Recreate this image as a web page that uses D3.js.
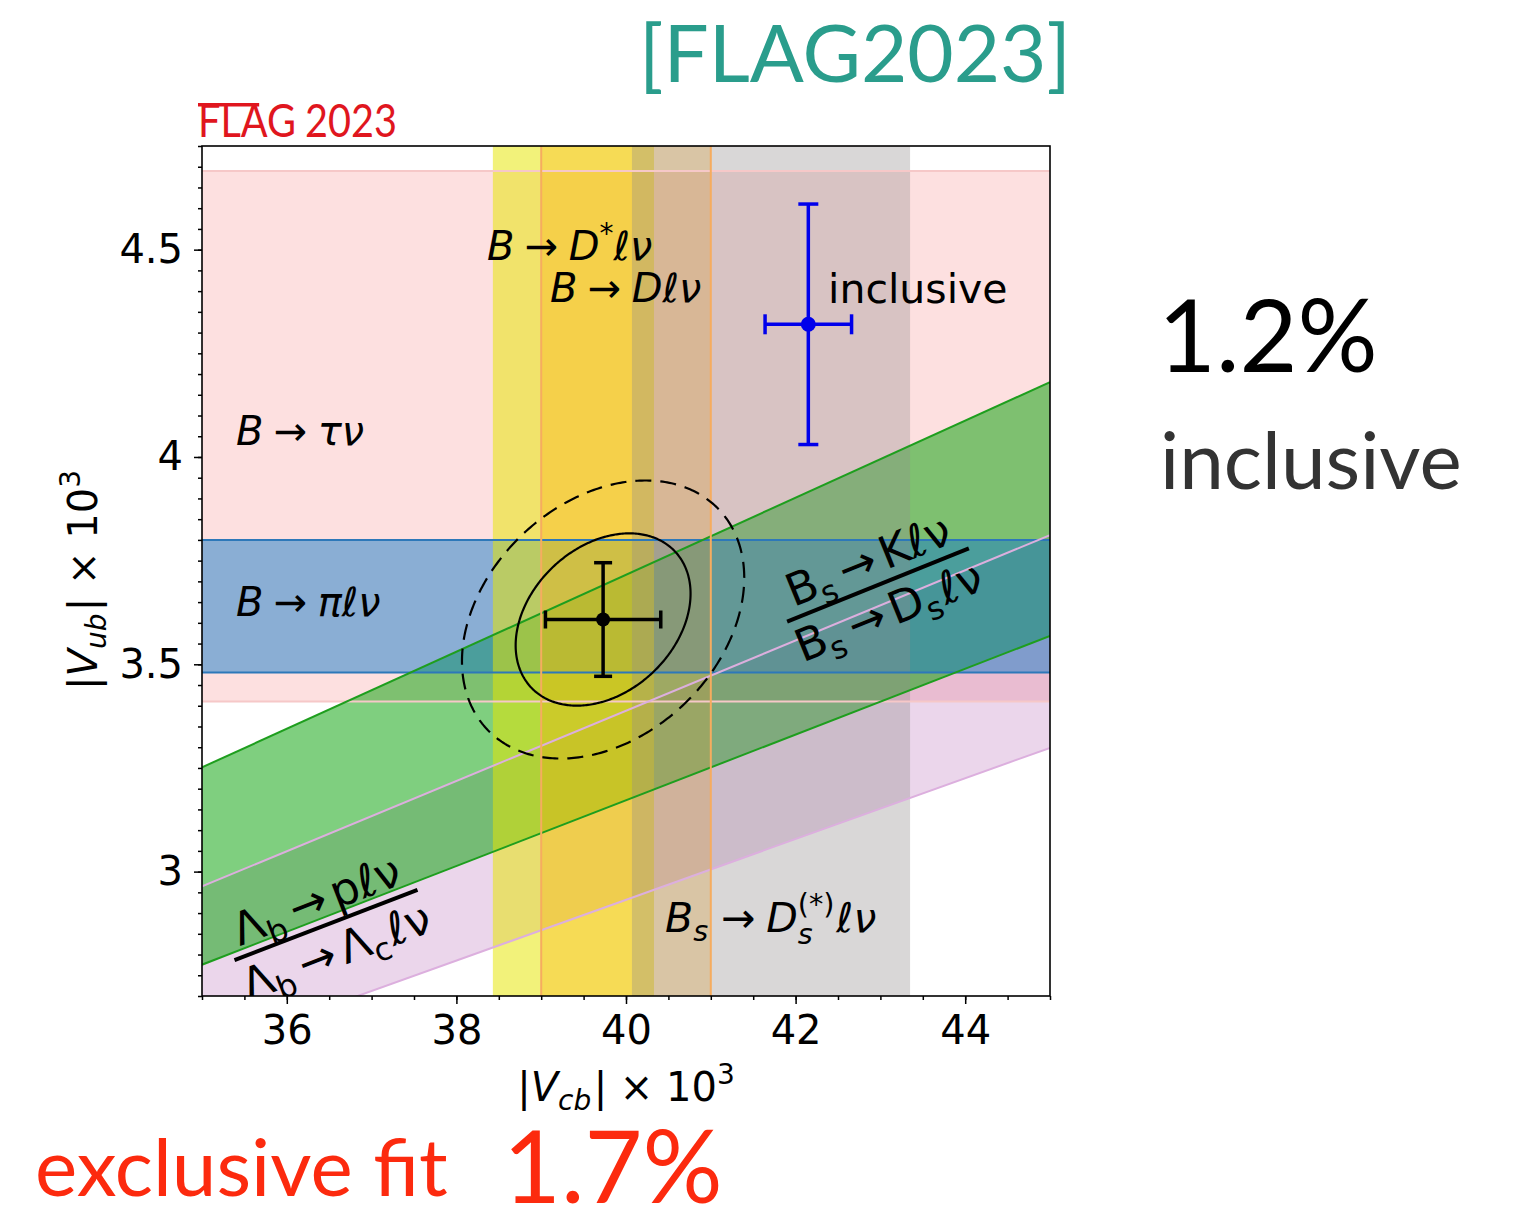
<!DOCTYPE html>
<html><head><meta charset="utf-8">
<script src="https://cdn.jsdelivr.net/npm/d3@7"></script>
<style>
body{margin:0;background:#fff;}
svg{display:block;}
</style></head><body>
<svg id="c" width="1516" height="1211"></svg>
<script>
// axis ranges (|Vcb| x 10^3, |Vub| x 10^3)
const vcbDomain = [35, 45];
const vubDomain = [2.7, 4.75];
const vcbTickLabels = [36, 38, 40, 42, 44];
const vubTickLabels = [3, 3.5, 4, 4.5];

// |Vcb| determinations: central value and error
const vcbModes = ["B→D*ℓν", "B→Dℓν", "Bs→Ds(*)ℓν"];
const vcbCentral = [39.38, 40.00, 41.71];
const vcbError = [0.95, 1.00, 1.64];

// |Vub| determinations
const vubModes = ["B→τν", "B→πℓν"];
const vubCentral = [4.05, 3.64];
const vubError = [0.64, 0.16];

// |Vub/Vcb| ratio determinations
const ratioModes = ["Λb→pℓν / Λb→Λcℓν", "Bs→Kℓν / Bs→Dsℓν"];
const ratioCentral = [0.0790, 0.0861];
const ratioError = [0.0057, 0.0068];

// exclusive fit
const fitVcb = [39.73, 0.68];
const fitVub = [3.608, 0.137];
const fitCorr = 0.30;
const contourLevels = [2.30, 5.99];   // delta chi^2, 2 dof: 68% and 95% CL

// inclusive determination
const inclVcb = [42.15, 0.51];
const inclVub = [4.32, 0.29];

const svg = d3.select("#c");
const L = 202, R = 1050, T = 146, B = 996;
const x = d3.scaleLinear().domain(vcbDomain).range([L, R]);
const y = d3.scaleLinear().domain(vubDomain).range([B, T]);

svg.append("defs").append("clipPath").attr("id", "plotclip")
  .append("rect").attr("x", L).attr("y", T).attr("width", R - L).attr("height", B - T);

const plot = svg.append("g").attr("clip-path", "url(#plotclip)");
plot.append("rect").attr("x", L).attr("y", T).attr("width", R - L).attr("height", B - T).attr("fill", "#fff");

// styles per band
const vubFill = [{c: "rgb(253,224,224)", o: 1}, {c: "rgb(23,124,200)", o: 0.5}];
const vubEdge = ["rgb(246,200,200)", "rgb(45,120,185)"];
const vcbFill = [{c: "rgb(230,230,0)", o: 0.52}, {c: "rgb(255,165,0)", o: 0.3}, {c: "rgb(145,140,140)", o: 0.35}];
const vcbEdge = [null, "rgb(246,172,95)", null];
const ratioFill = [{c: "rgb(128,0,128)", o: 0.16}, {c: "rgb(0,160,0)", o: 0.5}];
const ratioEdge = ["rgb(220,175,222)", "rgb(30,158,30)"];

function hband(i) {
  const lo = vubCentral[i] - vubError[i], hi = vubCentral[i] + vubError[i];
  plot.append("rect").attr("x", L).attr("width", R - L)
    .attr("y", y(hi)).attr("height", y(lo) - y(hi))
    .attr("fill", vubFill[i].c).attr("fill-opacity", vubFill[i].o);
}
function vband(i) {
  const lo = vcbCentral[i] - vcbError[i], hi = vcbCentral[i] + vcbError[i];
  plot.append("rect").attr("y", T).attr("height", B - T)
    .attr("x", x(lo)).attr("width", x(hi) - x(lo))
    .attr("fill", vcbFill[i].c).attr("fill-opacity", vcbFill[i].o);
}
function rband(i) {
  const lo = ratioCentral[i] - ratioError[i], hi = ratioCentral[i] + ratioError[i];
  const [a, b] = vcbDomain;
  const pts = [[a, lo * a], [b, lo * b], [b, hi * b], [a, hi * a]];
  plot.append("polygon").attr("points", pts.map(p => [x(p[0]), y(p[1])].join(",")).join(" "))
    .attr("fill", ratioFill[i].c).attr("fill-opacity", ratioFill[i].o);
}

// fills, back to front
hband(0);
rband(0);
rband(1);
hband(1);
vband(0);
vband(1);
vband(2);

// band edges
vubCentral.forEach((c, i) => {
  [c - vubError[i], c + vubError[i]].forEach(v => {
    plot.append("line").attr("x1", L).attr("x2", R).attr("y1", y(v)).attr("y2", y(v))
      .attr("stroke", vubEdge[i]).attr("stroke-width", 2);
  });
});
ratioCentral.forEach((c, i) => {
  [c - ratioError[i], c + ratioError[i]].forEach(r => {
    plot.append("line").attr("x1", x(vcbDomain[0])).attr("y1", y(r * vcbDomain[0]))
      .attr("x2", x(vcbDomain[1])).attr("y2", y(r * vcbDomain[1]))
      .attr("stroke", ratioEdge[i]).attr("stroke-width", 2);
  });
});
vcbCentral.forEach((c, i) => {
  if (!vcbEdge[i]) return;
  [c - vcbError[i], c + vcbError[i]].forEach(v => {
    plot.append("line").attr("y1", T).attr("y2", B).attr("x1", x(v)).attr("x2", x(v))
      .attr("stroke", vcbEdge[i]).attr("stroke-width", 2);
  });
});

// fit contours
const ang = d3.range(0, 2 * Math.PI + 0.001, Math.PI / 180);
contourLevels.forEach((lvl, k) => {
  const s = Math.sqrt(lvl);
  const pts = ang.map(t => [
    x(fitVcb[0] + s * fitVcb[1] * Math.cos(t)),
    y(fitVub[0] + s * fitVub[1] * (fitCorr * Math.cos(t) + Math.sqrt(1 - fitCorr * fitCorr) * Math.sin(t)))
  ]);
  plot.append("path").attr("d", d3.line()(pts)).attr("fill", "none")
    .attr("stroke", "#000").attr("stroke-width", 2.2)
    .attr("stroke-dasharray", k === 1 ? "16,9" : null);
});

// error bar points
function errPoint(vx, vy, color, cap, r) {
  const g = plot.append("g").attr("stroke", color).attr("stroke-width", 3.5);
  g.append("line").attr("x1", x(vx[0] - vx[1])).attr("x2", x(vx[0] + vx[1])).attr("y1", y(vy[0])).attr("y2", y(vy[0]));
  g.append("line").attr("y1", y(vy[0] - vy[1])).attr("y2", y(vy[0] + vy[1])).attr("x1", x(vx[0])).attr("x2", x(vx[0]));
  [vx[0] - vx[1], vx[0] + vx[1]].forEach(v => g.append("line").attr("x1", x(v)).attr("x2", x(v)).attr("y1", y(vy[0]) - cap).attr("y2", y(vy[0]) + cap));
  [vy[0] - vy[1], vy[0] + vy[1]].forEach(v => g.append("line").attr("y1", y(v)).attr("y2", y(v)).attr("x1", x(vx[0]) - cap).attr("x2", x(vx[0]) + cap));
  plot.append("circle").attr("cx", x(vx[0])).attr("cy", y(vy[0])).attr("r", r).attr("fill", color);
}
errPoint(fitVcb, fitVub, "#000", 9, 7);
errPoint(inclVcb, inclVub, "rgb(0,0,235)", 10, 7.5);

// mathtext-like labels: one <text> per label, pieces as tspans
const MATH = "'DejaVu Sans', sans-serif";
function mathLabel(parent, pieces, size) {
  const g = parent.append("g");
  const txt = g.append("text").attr("font-family", MATH).attr("fill", "#000").attr("font-size", size);
  let cx = 0;
  const addSpan = (str, s, shift, italic) => {
    const t = txt.append("tspan").attr("x", cx).attr("y", shift)
      .attr("font-size", s).attr("font-style", italic ? "italic" : "normal").text(str);
    return t.node().getComputedTextLength();
  };
  for (const p of pieces) {
    if (p.gap !== undefined) { cx += p.gap * size; continue; }
    if (p.stack) {
      const s = size * 0.7;
      const wa = addSpan(p.stack.sup, s, -0.45 * size, false);
      const wb = addSpan(p.stack.sub, s, 0.3 * size, true);
      cx += Math.max(wa, wb);
      continue;
    }
    const s = (p.sub || p.sup) ? size * 0.7 : size;
    const yy = p.sub ? 0.22 * size : p.sup ? -0.42 * size : 0;
    const w = addSpan(p.t, s, yy, p.i);
    cx += w;
    if (p.sub) cx += 0.06 * size;
  }
  return {g, w: cx};
}
function placeLabel(parent, pieces, size, px, py) {
  const m = mathLabel(parent, pieces, size);
  m.g.attr("transform", `translate(${px},${py})`);
  return m;
}
const arrow = [{gap: 0.26}, {t: "→"}, {gap: 0.26}];

placeLabel(plot, [{t: "B", i: 1}, ...arrow, {t: "τν", i: 1}], 40, 236, 445);
placeLabel(plot, [{t: "B", i: 1}, ...arrow, {t: "πℓν", i: 1}], 40, 236, 616);
placeLabel(plot, [{t: "B", i: 1}, ...arrow, {t: "D", i: 1}, {t: "*", sup: 1}, {t: "ℓν", i: 1}], 40, 487, 260);
placeLabel(plot, [{t: "B", i: 1}, ...arrow, {t: "Dℓν", i: 1}], 40, 550, 302);
placeLabel(plot, [{t: "inclusive"}], 41, 828, 303);
placeLabel(plot, [{t: "B", i: 1}, {t: "s", i: 1, sub: 1}, ...arrow, {t: "D", i: 1}, {stack: {sup: "(*)", sub: "s"}}, {gap: 0.05}, {t: "ℓν", i: 1}], 41, 665, 932);

// rotated ratio labels
function fraction(cx, cy, rot, num, den, size, barLen) {
  const g = plot.append("g").attr("transform", `translate(${cx},${cy}) rotate(${rot})`);
  const n = mathLabel(g, num, size);
  n.g.attr("transform", `translate(${-n.w / 2},${-11})`);
  const d = mathLabel(g, den, size);
  d.g.attr("transform", `translate(${-d.w / 2},${0.8 * size + 8})`);
  g.append("line").attr("x1", -barLen / 2).attr("x2", barLen / 2).attr("y1", 0).attr("y2", 0)
    .attr("stroke", "#000").attr("stroke-width", 4);
}
const arrowR = [{gap: 0.14}, {t: "→"}, {gap: 0.14}];
fraction(878, 585, -22,
  [{t: "B"}, {t: "s", sub: 1}, ...arrowR, {t: "Kℓν"}],
  [{t: "B"}, {t: "s", sub: 1}, ...arrowR, {t: "D"}, {t: "s", sub: 1}, {t: "ℓν"}], 45, 196);
fraction(326, 925, -21,
  [{t: "Λ"}, {t: "b", sub: 1}, ...arrowR, {t: "pℓν"}],
  [{t: "Λ"}, {t: "b", sub: 1}, ...arrowR, {t: "Λ"}, {t: "c", sub: 1}, {t: "ℓν"}], 45, 196);

// frame
svg.append("rect").attr("x", L).attr("y", T).attr("width", R - L).attr("height", B - T)
  .attr("fill", "none").attr("stroke", "#000").attr("stroke-width", 1.6);

// ticks
function styleAxis(g) {
  g.select(".domain").remove();
  g.selectAll(".tick line").attr("stroke", "#000").attr("stroke-width", 1.5);
  g.selectAll("text").attr("font-family", MATH).attr("font-size", 40).attr("fill", "#000");
}
const xMinor = d3.range(vcbDomain[0], vcbDomain[1] + 0.001, 0.5);
const yMinor = d3.range(Math.round(vubDomain[0] * 20), Math.round(vubDomain[1] * 20) + 1).map(v => v / 20);
svg.append("g").attr("transform", `translate(0,${B})`)
  .call(d3.axisBottom(x).tickValues(xMinor).tickSize(4).tickFormat("")).call(styleAxis);
svg.append("g").attr("transform", `translate(0,${B})`)
  .call(d3.axisBottom(x).tickValues(vcbTickLabels).tickSize(8).tickPadding(12).tickFormat(d3.format("d"))).call(styleAxis);
svg.append("g").attr("transform", `translate(${L},0)`)
  .call(d3.axisLeft(y).tickValues(yMinor).tickSize(4).tickFormat("")).call(styleAxis);
svg.append("g").attr("transform", `translate(${L},0)`)
  .call(d3.axisLeft(y).tickValues(vubTickLabels).tickSize(8).tickPadding(11).tickFormat(d => String(d))).call(styleAxis);

// axis titles
const xt = mathLabel(svg, [{t: "|"}, {t: "V", i: 1}, {t: "cb", i: 1, sub: 1}, {t: "| × 10"}, {t: "3", sup: 1}], 40);
xt.g.attr("transform", `translate(${626 - xt.w / 2},1101)`);
const yt = mathLabel(svg, [{t: "|"}, {t: "V", i: 1}, {t: "ub", i: 1, sub: 1}, {t: "| × 10"}, {t: "3", sup: 1}], 40);
yt.g.attr("transform", `translate(97,${580 + yt.w / 2}) rotate(-90)`);

// FLAG logo
const RED = "#e0161e";
const flag = svg.append("text").attr("x", 198).attr("y", 137).attr("font-family", "Lato, sans-serif")
  .attr("font-size", 47).attr("fill", RED).text("FLAG");
const flW = flag.node().getSubStringLength(0, 2);
const aW = flag.node().getSubStringLength(2, 1);
const sc = 98 / flag.node().getComputedTextLength();
flag.attr("textLength", 98).attr("lengthAdjust", "spacingAndGlyphs");
svg.append("rect").attr("x", 198).attr("y", 103).attr("width", (flW + 0.7 * aW) * sc).attr("height", 3.5).attr("fill", RED);
svg.append("text").attr("x", 305).attr("y", 137).attr("font-family", "Lato, sans-serif")
  .attr("font-size", 47).attr("fill", RED).attr("textLength", 92).attr("lengthAdjust", "spacingAndGlyphs").text("2023");

// headline texts
const LATO = "Lato, sans-serif";
svg.append("text").attr("x", 855).attr("y", 82).attr("text-anchor", "middle").attr("font-family", LATO)
  .attr("font-size", 80).attr("fill", "#2a9d8c").text("[FLAG2023]");
svg.append("text").attr("x", 1158).attr("y", 372).attr("font-family", LATO)
  .attr("font-size", 100).attr("fill", "#000").text("1.2%");
svg.append("text").attr("x", 1160).attr("y", 489).attr("font-family", LATO)
  .attr("font-size", 80).attr("fill", "#333").text("inclusive");
svg.append("text").attr("x", 35).attr("y", 1196).attr("font-family", LATO)
  .attr("font-size", 80).attr("fill", "#fc2a0e").text("exclusive fit");
svg.append("text").attr("x", 503).attr("y", 1203).attr("font-family", LATO)
  .attr("font-size", 100).attr("fill", "#fc2a0e").text("1.7%");
</script>
</body></html>
